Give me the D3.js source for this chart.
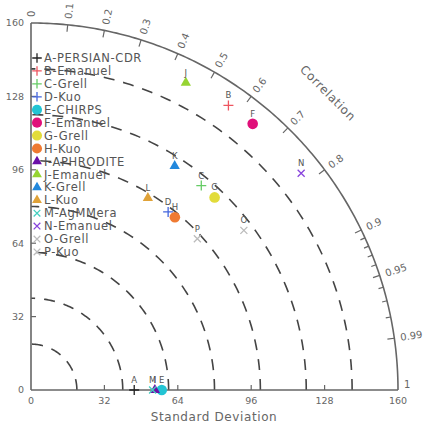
<!DOCTYPE html>
<html><head><meta charset="utf-8">
<script src="https://cdn.jsdelivr.net/npm/d3@7"></script>
<style>body{margin:0;background:#fff}svg{display:block}</style>
</head><body>
<script>
// ---- data ----
const ids = ["A","B","C","D","E","F","G","H","I","J","K","L","M","N","O","P"];
const names = ["A-PERSIAN-CDR","B-Emanuel","C-Grell","D-Kuo","E-CHIRPS","F-Emanuel","G-Grell","H-Kuo","I-APHRODITE","J-Emanuel","K-Grell","L-Kuo","M-AgMMera","N-Emanuel","O-Grell","P-Kuo"];
const stdDev = [45, 151, 116, 98, 57, 151, 116, 98, 54, 150, 116, 98, 53, 151, 116, 98];
const corr   = [1.0, 0.57, 0.64, 0.61, 1.0, 0.64, 0.69, 0.64, 1.0, 0.45, 0.54, 0.52, 1.0, 0.78, 0.80, 0.74];
const stdTicks = [0, 32, 64, 96, 128, 160];
const rmsArcs = [20, 40, 60, 80, 100, 120, 140];
const corrLabels = [0, 0.1, 0.2, 0.3, 0.4, 0.5, 0.6, 0.7, 0.8, 0.9, 0.95, 0.99, 1];
const corrMinor = [0.91, 0.92, 0.93, 0.94, 0.96, 0.97, 0.98];
// ---- styles ----
const shapes = ["plus","plus","plus","plus","circle","circle","circle","circle","tri","tri","tri","tri","x","x","x","x"];
const colors = ["#222222","#ee5560","#66cc66","#4466dd","#22c4d4","#e0107a","#e2dc3a","#ef7a32","#6a10a8","#96d432","#2288dd","#e0a238","#44d0c0","#8844dd","#bbbbbb","#bbbbbb"];

const W = 425, H = 425, ox = 31, oy = 390;
const svg = d3.select("body").append("svg").attr("width", W).attr("height", H)
  .style("font-family", "DejaVu Sans, sans-serif");
const r = d3.scaleLinear().domain([0, 160]).range([0, 367]);
const g = svg.append("g").attr("transform", `translate(${ox},${oy})`);
const pt = (s, c) => { const t = Math.acos(Math.min(1, c)); return [r(s) * Math.cos(t), -r(s) * Math.sin(t)]; };

// dashed std arcs
rmsArcs.forEach(v => {
  const n = 90, pts = [];
  for (let i = 0; i <= n; i++) { const t = (Math.PI / 2) * i / n; pts.push([r(v) * Math.cos(t), -r(v) * Math.sin(t)]); }
  g.append("path").attr("d", d3.line()(pts)).attr("fill", "none")
    .attr("stroke", "#444").attr("stroke-width", 1.6).attr("stroke-dasharray", "11,9");
});
// outer arc
{
  const pts = [];
  for (let i = 0; i <= 180; i++) { const t = (Math.PI / 2) * i / 180; pts.push([r(160) * Math.cos(t), -r(160) * Math.sin(t)]); }
  g.append("path").attr("d", d3.line()(pts)).attr("fill", "none").attr("stroke", "#666").attr("stroke-width", 1.6);
}
// axes lines
g.append("line").attr("x1", 0).attr("y1", 0).attr("x2", r(160)).attr("y2", 0).attr("stroke", "#666").attr("stroke-width", 1.6);
g.append("line").attr("x1", 0).attr("y1", 0).attr("x2", 0).attr("y2", -r(160)).attr("stroke", "#666").attr("stroke-width", 1.6);

// std ticks + labels
stdTicks.forEach(v => {
  if (v > 0 && v < 160) {
    g.append("line").attr("x1", r(v)).attr("x2", r(v)).attr("y1", 0).attr("y2", -5).attr("stroke", "#666").attr("stroke-width", 1.2);
    g.append("line").attr("y1", -r(v)).attr("y2", -r(v)).attr("x1", 0).attr("x2", 5).attr("stroke", "#666").attr("stroke-width", 1.2);
  }
  g.append("text").attr("x", r(v)).attr("y", 14).attr("text-anchor", "middle")
    .attr("font-size", 9.5).attr("fill", "#666").text(v);
  g.append("text").attr("x", -7).attr("y", -r(v)).attr("dy", "0.35em").attr("text-anchor", "end")
    .attr("font-size", 9.5).attr("fill", "#666").text(v);
});

// correlation ticks
corrLabels.concat(corrMinor).forEach(c => {
  const t = Math.acos(c), len = corrMinor.includes(c) ? 5 : 7;
  if (c === 0 || c === 1) return;
  g.append("line")
    .attr("x1", r(160) * Math.cos(t)).attr("y1", -r(160) * Math.sin(t))
    .attr("x2", (r(160) - len) * Math.cos(t)).attr("y2", -(r(160) - len) * Math.sin(t))
    .attr("stroke", "#666").attr("stroke-width", 1.2);
});
corrLabels.forEach(c => {
  const t = Math.acos(c), rr = r(160) + 6;
  const x = rr * Math.cos(t), y = -rr * Math.sin(t);
  g.append("text").attr("transform", `translate(${x},${y - (c === 1 ? 6 : 0)}) rotate(${-t * 180 / Math.PI})`)
    .attr("dy", "0.35em").attr("font-size", 10).attr("fill", "#666").text(c);
});
// Correlation title
{
  const t = Math.PI / 4, rr = r(160) + 53;
  g.append("text").attr("transform", `translate(${rr * Math.cos(t)},${-rr * Math.sin(t)}) rotate(45)`)
    .attr("text-anchor", "middle").attr("dy", "0.35em").attr("font-size", 12).attr("fill", "#666")
    .attr("letter-spacing", 0.6).text("Correlation");
}
// x title
svg.append("text").attr("x", 214).attr("y", 421).attr("text-anchor", "middle")
  .attr("font-size", 12).attr("fill", "#666").attr("letter-spacing", 0.6).text("Standard Deviation");

// marker drawing
function drawMarker(sel, shape, color, k) {
  if (shape === "plus") {
    sel.append("path").attr("d", `M${-5*k},0H${5*k}M0,${-5*k}V${5*k}`).attr("stroke", color).attr("stroke-width", 1.3).attr("fill", "none");
  } else if (shape === "x") {
    sel.append("path").attr("d", `M${-3.5*k},${-3.5*k}L${3.5*k},${3.5*k}M${-3.5*k},${3.5*k}L${3.5*k},${-3.5*k}`).attr("stroke", color).attr("stroke-width", 1.3).attr("fill", "none");
  } else if (shape === "circle") {
    sel.append("circle").attr("r", 5.3 * k).attr("fill", color);
  } else {
    sel.append("path").attr("d", d3.symbol(d3.symbolTriangle, 46 * k * k)()).attr("fill", color);
  }
}
// points
ids.forEach((id, i) => {
  const [x, y] = pt(stdDev[i], corr[i]);
  const m = g.append("g").attr("transform", `translate(${x},${y})`);
  drawMarker(m, shapes[i], colors[i], 1);
  g.append("text").attr("x", x).attr("y", y - 7).attr("text-anchor", "middle")
    .attr("font-size", 8.5).attr("fill", "#555").text(id);
});

// legend
names.forEach((n, i) => {
  const y = 58 + i * 12.93;
  const m = svg.append("g").attr("transform", `translate(37,${y})`);
  drawMarker(m, shapes[i], colors[i], 0.95);
  svg.append("text").attr("x", 44).attr("y", y).attr("dy", "0.36em")
    .attr("font-size", 11.5).attr("fill", "#555").attr("letter-spacing", 0.6).text(n);
});
</script>
</body></html>
